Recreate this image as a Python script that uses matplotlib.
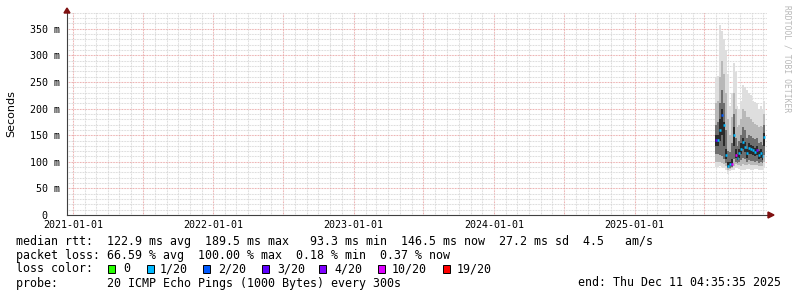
# smokeping-style 5 year graph for one target
# values read off an rrdtool png, rtt in ms

import pandas as pd
import matplotlib.pyplot as plt
from matplotlib.patches import Rectangle, Polygon

W, H = 797, 297
MONO = 'DejaVu Sans Mono'

# 5 day steps from end of July 2025 until the end of the graph
dates = pd.date_range('2025-07-30', periods=26, freq='5D')

rtt_median = [141, 141, 160, 188, 169, 112, 92, 95, 96, 150, 113, 107, 116,
              125, 137, 128, 116, 126, 124, 122, 118, 122, 113, 117, 111, 146]
rtt_min = [90, 90, 92, 90, 88, 85, 78, 82, 84, 85, 88, 88, 86,
           85, 85, 85, 86, 86, 85, 85, 86, 86, 85, 85, 85, 90]
rtt_p10 = [100, 100, 100, 98, 95, 92, 84, 86, 88, 92, 95, 94, 94,
           93, 95, 94, 94, 95, 94, 94, 94, 94, 93, 93, 92, 100]
rtt_p25 = [115, 115, 112, 110, 105, 98, 88, 89, 90, 105, 100, 98, 100,
           103, 108, 105, 100, 103, 102, 101, 100, 101, 98, 99, 97, 112]
rtt_p40 = [130, 130, 140, 150, 130, 105, 90, 92, 93, 130, 108, 103, 108,
           115, 125, 118, 108, 115, 115, 112, 110, 113, 105, 108, 103, 130]
rtt_p60 = [150, 150, 180, 200, 175, 125, 100, 100, 105, 165, 125, 115, 125,
           135, 145, 138, 125, 135, 132, 130, 126, 130, 120, 125, 118, 155]
rtt_p75 = [170, 175, 210, 235, 210, 160, 120, 118, 135, 190, 145, 130, 140,
           150, 165, 160, 145, 150, 148, 145, 142, 145, 135, 138, 132, 170]
rtt_p90 = [210, 215, 260, 290, 265, 230, 180, 150, 185, 230, 200, 165, 170,
           180, 200, 195, 185, 185, 180, 175, 172, 170, 165, 168, 165, 190]
rtt_max = [260, 262, 357, 345, 330, 310, 265, 205, 230, 285, 268, 205, 200,
           215, 245, 240, 235, 230, 225, 215, 212, 210, 200, 205, 200, 215]
loss = ['3/20', '1/20', '1/20', '2/20', '1/20', '1/20', '1/20', '1/20', '10/20',
        '1/20', '10/20', '1/20', '1/20', '1/20', '1/20', '1/20', '1/20', '1/20',
        '1/20', '1/20', '1/20', '4/20', '1/20', '1/20', '1/20', '1/20']

loss_labels = ['0', '1/20', '2/20', '3/20', '4/20', '10/20', '19/20']
loss_colors = ['#26ff00', '#00b8ff', '#0059ff', '#5e00ff', '#7e00ff', '#dd00ff', '#ff0000']

year_ticks = ['2021-01-01', '2022-01-01', '2023-01-01', '2024-01-01', '2025-01-01']
y_ticks = [0, 50, 100, 150, 200, 250, 300, 350]
y_labels = ['  0  ', ' 50 m', '100 m', '150 m', '200 m', '250 m', '300 m', '350 m']

fig = plt.figure(figsize=(W / 100, H / 100), dpi=100)
ax = fig.add_axes([67 / W, (H - 215) / H, 700 / W, 203 / H])

ax.set_xlim(pd.Timestamp('2020-12-16'), pd.Timestamp('2025-12-11 04:35'))
ax.set_ylim(0, 381.6)

# grid: monthly / 10 ms grey, half-year / 50 ms red
for d in pd.date_range('2021-01-01', '2025-12-01', freq='MS'):
    major = d.month in (1, 7)
    ax.axvline(d, color='#e8a0a0' if major else '#d4d4d4', lw=0.75,
               dashes=(0.75, 0.75), zorder=0)
for v in range(10, 390, 10):
    major = v % 50 == 0
    ax.axhline(v, color='#e8a0a0' if major else '#d4d4d4', lw=0.75,
               dashes=(0.75, 0.75), zorder=0)

# smoke, outer band first, darkest in the middle
step = 5
bands = [(rtt_min, rtt_max, '#dedede'),
         (rtt_p10, rtt_p90, '#b8b8b8'),
         (rtt_p25, rtt_p75, '#6e6e6e'),
         (rtt_p40, rtt_p60, '#2a2a2a')]
for z, (lo, hi, col) in enumerate(bands):
    ax.bar(dates, pd.Series(hi) - pd.Series(lo), bottom=lo, width=step,
           align='edge', color=col, lw=0, zorder=2 + z)

# median coloured by loss
cmap = dict(zip(loss_labels, loss_colors))
colors = [cmap[l] for l in loss]
ax.hlines(rtt_median, dates, dates + pd.Timedelta(days=step),
          colors=colors, lw=1.8, zorder=7)

ax.set_xticks(pd.to_datetime(year_ticks), year_ticks)
ax.set_yticks(y_ticks, y_labels)
ax.tick_params(length=0, labelsize=7.2)
ax.tick_params(axis='x', pad=3.5)
ax.tick_params(axis='y', pad=26.6)
for t in ax.get_yticklabels():
    t.set_horizontalalignment('left')
for t in ax.get_xticklabels() + ax.get_yticklabels():
    t.set_family(MONO)

for s in ['top', 'right']:
    ax.spines[s].set_visible(False)
ax.spines['left'].set_color('#404040')
ax.spines['bottom'].set_color('#404040')

# arrows at axis ends
def px(x, y):
    return (x / W, 1 - y / H)

fig.patches.append(Polygon([px(64, 13), px(70, 13), px(67, 8)], closed=True,
                           color='#7f1010', transform=fig.transFigure))
fig.patches.append(Polygon([px(768, 212), px(768, 218), px(774, 215)], closed=True,
                           color='#7f1010', transform=fig.transFigure))

fig.text(*px(11, 113.5), 'Seconds', rotation=90, ha='center', va='center',
         family='DejaVu Sans', size=8)
fig.text(*px(787, 5), 'RRDTOOL / TOBI OETIKER', rotation=-90, ha='center', va='top',
         family=MONO, size=5.8, color='#b8b8b8')

fs = 8.4
fig.text(*px(16, 242), 'median rtt:  122.9 ms avg  189.5 ms max   93.3 ms min  146.5 ms now  27.2 ms sd  4.5   am/s',
         family=MONO, size=fs, va='center')
fig.text(*px(16, 255), 'packet loss: 66.59 % avg  100.00 % max  0.18 % min  0.37 % now',
         family=MONO, size=fs, va='center')
fig.text(*px(16, 269), 'loss color:', family=MONO, size=fs, va='center')
box_x = [108, 147, 203, 262, 319, 378, 443]
lab_x = [123, 160, 218, 277, 334, 392, 457]
for bx, lx, lab, c in zip(box_x, lab_x, loss_labels, loss_colors):
    fig.patches.append(Rectangle(px(bx, 273), 7 / W, 8 / H, facecolor=c,
                                 edgecolor='black', lw=0.7, transform=fig.transFigure))
    fig.text(*px(lx, 269), lab, family=MONO, size=fs, va='center')
fig.text(*px(16, 283), 'probe:       20 ICMP Echo Pings (1000 Bytes) every 300s',
         family=MONO, size=fs, va='center')
fig.text(*px(781, 283), 'end: Thu Dec 11 04:35:35 2025', family=MONO, size=fs,
         va='center', ha='right')

fig.savefig('out.png', dpi=100)
